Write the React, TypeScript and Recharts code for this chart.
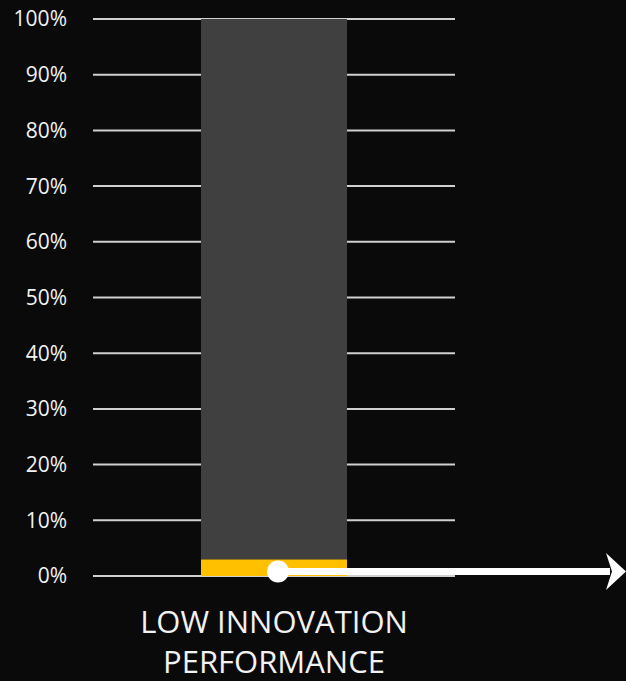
import React from "react";
import { BarChart, Bar, XAxis, YAxis, CartesianGrid } from "recharts";

const categories = ["LOW INNOVATION PERFORMANCE"];
const lowShare = [3];
const restShare = [97];
const yTicks = [0, 10, 20, 30, 40, 50, 60, 70, 80, 90, 100];

const data = categories.map((name, i) => ({ name, low: lowShare[i], rest: restShare[i] }));

const W = 626;
const H = 681;
const FONT = "'Open Sans', 'Noto Sans', sans-serif";

const CategoryTick = (props: any) => {
  const { x, y, payload } = props;
  const words = String(payload.value).split(" ");
  const line1 = words.slice(0, 2).join(" ");
  const line2 = words.slice(2).join(" ");
  return (
    <text x={x} y={y} textAnchor="middle" fill="#f2f2f2" fontSize={31} fontFamily={FONT}>
      <tspan x={x} dy={57}>{line1}</tspan>
      <tspan x={x} dy={40}>{line2}</tspan>
    </text>
  );
};

const LowBarShape = (props: any) => {
  const { x, y, width, height, fill } = props;
  const cx = x + width / 2 + 4;
  const cy = y + height - 4.5;
  const tipX = W;
  return (
    <g>
      <rect x={x} y={y} width={width} height={height} fill={fill} />
      <line x1={cx} y1={cy} x2={tipX - 16} y2={cy} stroke="#ffffff" strokeWidth={7} />
      <circle cx={cx} cy={cy} r={11} fill="#ffffff" />
      <polygon
        points={`${tipX},${cy} ${tipX - 20},${cy - 18.5} ${tipX - 14},${cy} ${tipX - 20},${cy + 18.5}`}
        fill="#ffffff"
      />
    </g>
  );
};

export default function App() {
  return (
    <div style={{ position: "fixed", left: 0, top: 0, width: W, height: H, background: "#0a0a0a" }}>
      <BarChart
        width={W}
        height={H}
        data={data}
        margin={{ top: 19, right: 171, bottom: 0, left: 0 }}
        style={{ overflow: "visible" }}
      >
        <CartesianGrid horizontal vertical={false} stroke="#d0d0d0" strokeWidth={2} />
        <XAxis
          dataKey="name"
          axisLine={false}
          tickLine={false}
          tickSize={0}
          tickMargin={0}
          height={105}
          interval={0}
          tick={<CategoryTick />}
        />
        <YAxis
          domain={[0, 100]}
          ticks={yTicks}
          tickFormatter={(v: number) => `${v}%`}
          axisLine={false}
          tickLine={false}
          tickSize={0}
          tickMargin={26}
          width={93}
          tick={{ fill: "#f2f2f2", fontSize: 21, fontFamily: FONT }}
        />
        <Bar dataKey="low" stackId="a" fill="#ffc000" barSize={146} isAnimationActive={false} shape={<LowBarShape />} />
        <Bar dataKey="rest" stackId="a" fill="#404040" barSize={146} isAnimationActive={false} />
      </BarChart>
    </div>
  );
}
